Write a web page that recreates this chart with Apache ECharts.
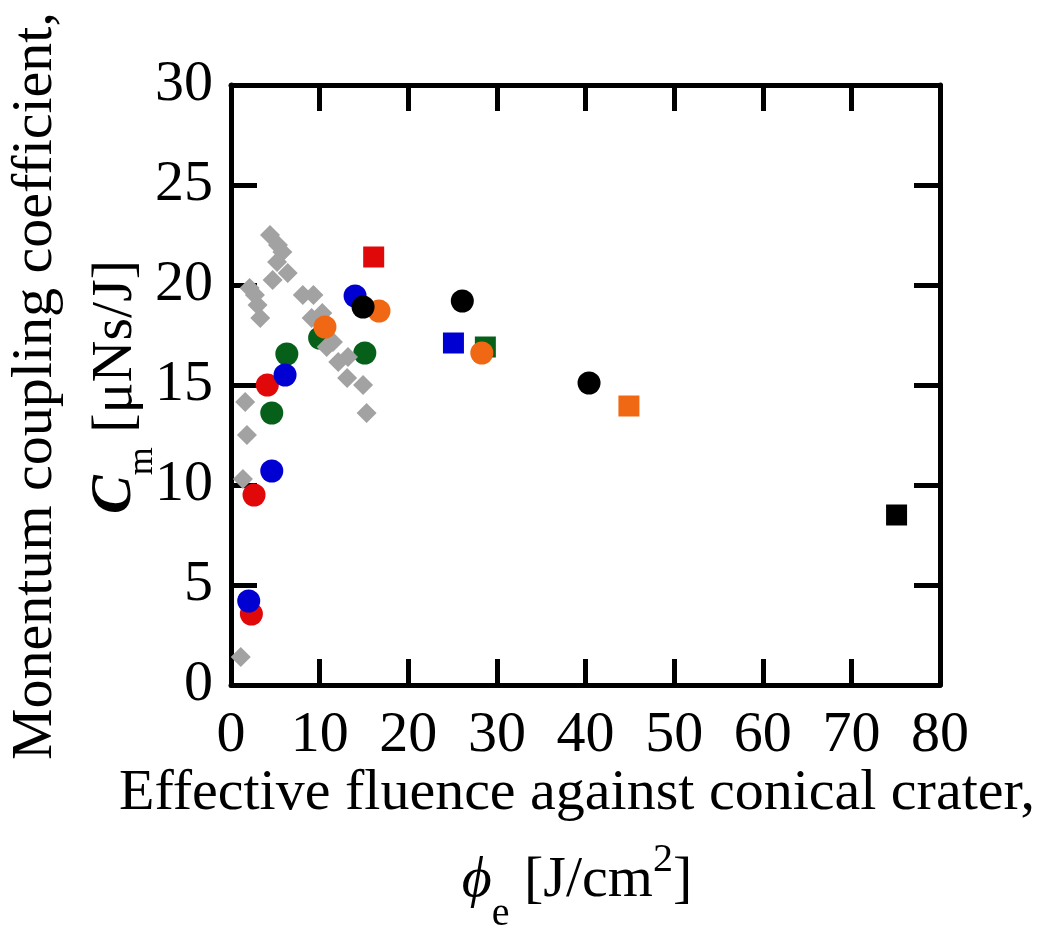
<!DOCTYPE html>
<html>
<head>
<meta charset="utf-8">
<script src="https://cdn.jsdelivr.net/npm/echarts@6/dist/echarts.min.js"></script>
<style>
html,body{margin:0;padding:0;background:#fff;}
#chart{width:1049px;height:940px;}
</style>
</head>
<body>
<div id="chart"></div>
<script>
// ---- data (fluence phi_e [J/cm2], Cm [uNs/J]) ----
const xTicks = [0, 10, 20, 30, 40, 50, 60, 70, 80];
const yTicks = [0, 5, 10, 15, 20, 25, 30];

const grayDiamonds = [
  [4.4, 22.5], [5.3, 22.0], [5.8, 21.65], [5.2, 21.15], [6.4, 20.6], [4.7, 20.25],
  [2.1, 19.85], [2.7, 19.5], [3.0, 19.0], [3.3, 18.35], [8.1, 19.5], [9.3, 19.5],
  [9.1, 18.35], [10.3, 18.6], [11.5, 17.15], [10.8, 16.9], [12.1, 16.15], [13.2, 16.4],
  [13.1, 15.35], [14.9, 15.0], [15.3, 13.6], [1.6, 14.15], [1.8, 12.5], [1.35, 10.3],
  [1.1, 1.4]
];
const redCircles = [[2.6, 9.5], [2.3, 3.55], [4.1, 15.0]];
const redSquares = [[16.1, 21.4]];
const blueCircles = [[4.6, 10.7], [2.0, 4.2], [6.1, 15.5], [14.0, 19.45]];
const blueSquares = [[25.1, 17.1]];
const greenCircles = [[4.6, 13.6], [6.3, 16.55], [15.1, 16.6], [10.0, 17.35]];
const greenSquares = [[28.7, 16.9]];
const orangeCircles = [[10.6, 17.9], [16.7, 18.7], [28.3, 16.6]];
const orangeSquares = [[44.9, 13.95]];
const blackCircles = [[14.9, 18.9], [26.1, 19.2], [40.4, 15.1]];
const blackSquares = [[75.1, 8.5]];

// ---- styling ----
const FONT = 'Liberation Serif';
const FS = 58;
const C_RED = '#e00808', C_BLUE = '#0000d2', C_GREEN = '#06601a',
      C_ORANGE = '#f06814', C_GRAY = '#a2a2a2', C_BLACK = '#000000';

const chart = echarts.init(document.getElementById('chart'), null, {renderer: 'canvas'});

const axisCommon = {
  min: 0,
  axisLine: {show: true, onZero: false, lineStyle: {color: '#000', width: 5}},
  axisTick: {show: true, inside: true, length: 26, lineStyle: {color: '#000', width: 5}},
  splitLine: {show: false}
};

function scatter(name, data, symbol, size, color) {
  return {
    name: name, type: 'scatter', data: data, symbol: symbol, symbolSize: size,
    itemStyle: {color: color, opacity: 1}, emphasis: {disabled: true},
    xAxisIndex: 0, yAxisIndex: 0
  };
}

// text measuring for composed axis titles
const mctx = document.createElement('canvas').getContext('2d');
function fontStr(p) {
  return (p.italic ? 'italic ' : '') + (p.bold ? 'bold ' : '') + p.size + 'px "' + FONT + '"';
}
function tw(p) {
  mctx.font = fontStr(p);
  return mctx.measureText(p.t).width;
}
// pieces: {t, size, italic, bold, dy}  dy = baseline shift (positive = down)
function composeLine(pieces, cx, baseline) {
  const total = pieces.reduce((s, p) => s + tw(p), 0);
  let x = cx - total / 2;
  const out = [];
  pieces.forEach(p => {
    out.push({
      type: 'text', x: x, y: baseline + (p.dy || 0) - 0.3375 * p.size,
      style: {
        text: p.t, fill: '#000', font: fontStr(p),
        textAlign: 'left', textVerticalAlign: 'middle', verticalAlign: 'middle'
      },
      silent: true
    });
    x += tw(p);
  });
  return out;
}

const xTitle1 = composeLine([{t: 'Effective fluence against conical crater,', size: FS}], 577, 813);
const xTitle2 = composeLine([
  {t: '\u03D5', size: FS, italic: true},
  {t: 'e', size: 40, dy: 28},
  {t: ' [J/cm', size: FS},
  {t: '2', size: 40, dy: -26},
  {t: ']', size: FS}
], 577, 900);
// y titles: built in a rotated group (local x along text, local y = screen right)
const yTitle1 = composeLine([{t: 'Monentum coupling coefficient,', size: FS}], 0, 0);
const yTitle2 = composeLine([
  {t: 'C', size: FS, italic: true, bold: true},
  {t: 'm', size: 36, dy: 20},
  {t: ' [\u03BCNs/J]', size: FS}
], 0, 0);

const option = {
  animation: false,
  backgroundColor: '#fff',
  grid: {left: 231, right: 109, top: 85, bottom: 255, containLabel: false},
  xAxis: [
    Object.assign({}, axisCommon, {
      type: 'value', position: 'bottom', max: 80, interval: 10,
      axisLabel: {show: true, margin: 22, color: '#000', fontFamily: FONT, fontSize: FS,
        formatter: v => (xTicks.indexOf(v) >= 0 ? String(v) : '')}
    }),
    Object.assign({}, axisCommon, {
      type: 'value', position: 'top', max: 80, interval: 10, axisLabel: {show: false}
    })
  ],
  yAxis: [
    Object.assign({}, axisCommon, {
      type: 'value', position: 'left', max: 30, interval: 5,
      axisLabel: {show: true, margin: 18, color: '#000', fontFamily: FONT, fontSize: FS,
        formatter: v => (yTicks.indexOf(v) >= 0 ? String(v) : '')}
    }),
    Object.assign({}, axisCommon, {
      type: 'value', position: 'right', max: 30, interval: 5, axisLabel: {show: false}
    })
  ],
  series: [
    scatter('green', greenCircles, 'circle', 23, C_GREEN),
    scatter('green sq', greenSquares, 'rect', 21, C_GREEN),
    scatter('gray', grayDiamonds, 'diamond', 20, C_GRAY),
    scatter('red', redCircles, 'circle', 23, C_RED),
    scatter('red sq', redSquares, 'rect', 21, C_RED),
    scatter('blue', blueCircles, 'circle', 23, C_BLUE),
    scatter('blue sq', blueSquares, 'rect', 21, C_BLUE),
    scatter('orange', orangeCircles, 'circle', 23, C_ORANGE),
    scatter('orange sq', orangeSquares, 'rect', 21, C_ORANGE),
    scatter('black', blackCircles, 'circle', 23, C_BLACK),
    scatter('black sq', blackSquares, 'rect', 21, C_BLACK)
  ],
  graphic: [].concat(xTitle1, xTitle2, [
    {type: 'group', x: 55, y: 386, rotation: Math.PI / 2, children: yTitle1},
    {type: 'group', x: 135, y: 387, rotation: Math.PI / 2, children: yTitle2}
  ])
};
chart.setOption(option);
</script>
</body>
</html>
